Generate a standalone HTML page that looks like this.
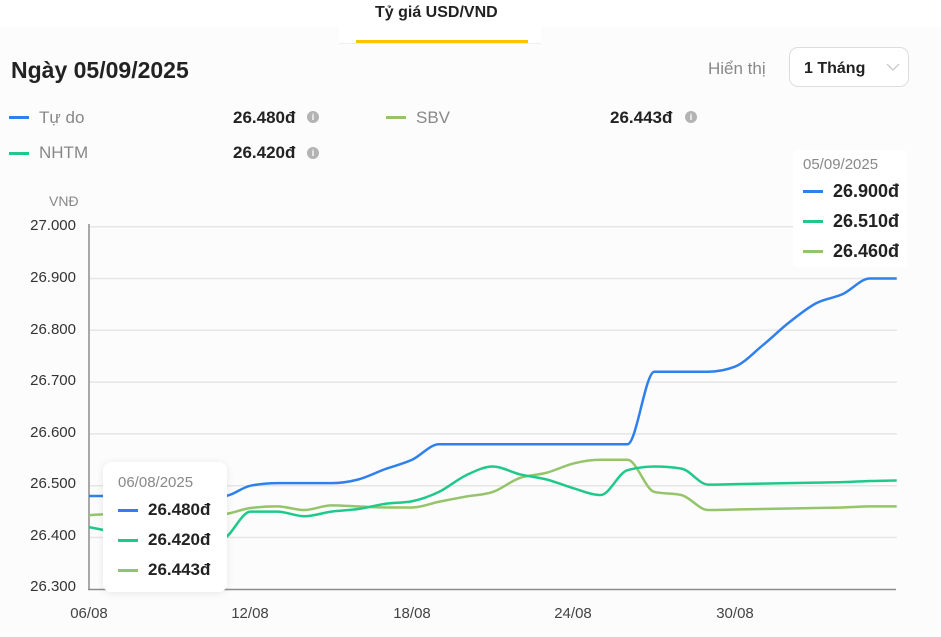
<!DOCTYPE html>
<html><head><meta charset="utf-8"><style>
*{margin:0;padding:0;box-sizing:border-box}
body{width:941px;height:637px;overflow:hidden;background:#fcfcfc;font-family:"Liberation Sans",Arial,sans-serif;position:relative;color:#222}
.a{position:absolute;white-space:nowrap}
.top{position:absolute;left:0;top:0;width:941px;height:27px;background:#fff}
.tab{position:absolute;left:339px;top:27px;width:202px;height:17px;background:#fff;border-bottom:1px solid #eee}
.yl{position:absolute;left:0;width:76px;text-align:right;font-size:15px;line-height:20px;color:#333}
.xl{position:absolute;width:60px;text-align:center;font-size:15px;line-height:20px;color:#444}
.dash{position:absolute;width:20px;height:2.5px}
.info{position:absolute;width:12px;height:12px;border-radius:50%;background:#b3b3b3;color:#fff;font-size:9px;font-weight:bold;line-height:12px;text-align:center}
.tip{position:absolute;background:#fff;border-radius:8px}
</style></head><body>
<div class="top"></div>
<div class="tab"></div>
<div class="a" style="left:375px;top:3px;font-size:16px;line-height:20px;font-weight:bold;color:#222">Tỷ giá USD/VND</div>
<div class="a" style="left:356px;top:40px;width:172px;height:3px;background:#f7c600"></div>

<div class="a" style="left:11px;top:56px;font-size:23px;line-height:28px;font-weight:bold;color:#222">Ngày 05/09/2025</div>
<div class="a" style="left:708px;top:59px;font-size:17px;line-height:20px;color:#888">Hiển thị</div>
<div class="a" style="left:789px;top:47px;width:120px;height:40px;border:1px solid #ddd;border-radius:9px;background:#fff"></div>
<div class="a" style="left:804px;top:58px;font-size:16px;line-height:22px;font-weight:bold;color:#222">1 Tháng</div>
<svg class="a" style="left:884px;top:60px" width="18" height="14"><polyline points="3,4 9,10 15,4" fill="none" stroke="#c4c4c4" stroke-width="1.2"/></svg>

<!-- legend -->
<div class="dash" style="left:9px;top:116px;background:#2f80ed"></div>
<div class="a" style="left:39px;top:108px;font-size:17px;line-height:20px;color:#888">Tự do</div>
<div class="a" style="left:233px;top:108px;font-size:17px;line-height:20px;font-weight:bold;color:#222">26.480đ</div>
<div class="info" style="left:307px;top:111px">i</div>
<div class="dash" style="left:386px;top:116px;background:#93c36b"></div>
<div class="a" style="left:416px;top:108px;font-size:17px;line-height:20px;color:#888">SBV</div>
<div class="a" style="left:610px;top:108px;font-size:17px;line-height:20px;font-weight:bold;color:#222">26.443đ</div>
<div class="info" style="left:685px;top:111px">i</div>
<div class="dash" style="left:9px;top:152px;background:#20c98b"></div>
<div class="a" style="left:39px;top:143px;font-size:17px;line-height:20px;color:#888">NHTM</div>
<div class="a" style="left:233px;top:143px;font-size:17px;line-height:20px;font-weight:bold;color:#222">26.420đ</div>
<div class="info" style="left:307px;top:147px">i</div>

<!-- axis labels -->
<div class="a" style="left:49px;top:191px;font-size:14px;line-height:20px;color:#888">VNĐ</div>
<div class="yl" style="top:215.5px">27.000</div>
<div class="yl" style="top:267.5px">26.900</div>
<div class="yl" style="top:319.5px">26.800</div>
<div class="yl" style="top:370.5px">26.700</div>
<div class="yl" style="top:422.5px">26.600</div>
<div class="yl" style="top:473.5px">26.500</div>
<div class="yl" style="top:525.5px">26.400</div>
<div class="yl" style="top:576.5px">26.300</div>
<div class="xl" style="left:59px;top:604px">06/08</div>
<div class="xl" style="left:220px;top:604px">12/08</div>
<div class="xl" style="left:382px;top:604px">18/08</div>
<div class="xl" style="left:543px;top:604px">24/08</div>
<div class="xl" style="left:705px;top:604px">30/08</div>

<svg class="a" style="left:0;top:0" width="941" height="637" id="ch">
<g stroke="#e6e6e6" stroke-width="1.5">
<line x1="90" x2="897" y1="226.7" y2="226.7"/>
<line x1="90" x2="897" y1="278.5" y2="278.5"/>
<line x1="90" x2="897" y1="330.3" y2="330.3"/>
<line x1="90" x2="897" y1="382.1" y2="382.1"/>
<line x1="90" x2="897" y1="433.9" y2="433.9"/>
<line x1="90" x2="897" y1="485.7" y2="485.7"/>
<line x1="90" x2="897" y1="537.5" y2="537.5"/>
</g>
<line x1="89" x2="89" y1="224" y2="590" stroke="#a8a8a8" stroke-width="2"/>
<line x1="88" x2="896" y1="589.5" y2="589.5" stroke="#8c8c8c" stroke-width="1.5"/>
<path id="pO" fill="none" stroke="#95c46a" stroke-width="2.5" stroke-linejoin="round"/>
<path id="pG" fill="none" stroke="#20c98b" stroke-width="2.5" stroke-linejoin="round"/>
<path id="pB" fill="none" stroke="#2f80ed" stroke-width="2.5" stroke-linejoin="round"/>
</svg>

<!-- tooltip bottom-left -->
<div class="tip" style="left:103px;top:462px;width:124px;height:130px;box-shadow:0 1px 8px rgba(0,0,0,0.09)"></div>
<div class="a" style="left:118px;top:473px;font-size:15px;line-height:20px;color:#888">06/08/2025</div>
<div class="dash" style="left:118px;top:509px;background:#2f80ed"></div>
<div class="a" style="left:148px;top:500px;font-size:17px;line-height:20px;font-weight:bold;color:#222">26.480đ</div>
<div class="dash" style="left:118px;top:539px;background:#20c98b"></div>
<div class="a" style="left:148px;top:530px;font-size:17px;line-height:20px;font-weight:bold;color:#222">26.420đ</div>
<div class="dash" style="left:118px;top:569px;background:#93c36b"></div>
<div class="a" style="left:148px;top:560px;font-size:17px;line-height:20px;font-weight:bold;color:#222">26.443đ</div>

<!-- tooltip top-right -->
<div class="tip" style="left:793px;top:150px;width:114px;height:117px;border-radius:4px"></div>
<div class="a" style="left:803px;top:155px;font-size:15px;line-height:20px;color:#888">05/09/2025</div>
<div class="dash" style="left:803px;top:190px;background:#2f80ed"></div>
<div class="a" style="left:833px;top:180px;font-size:18px;line-height:22px;font-weight:bold;color:#222">26.900đ</div>
<div class="dash" style="left:803px;top:220px;background:#20c98b"></div>
<div class="a" style="left:833px;top:210px;font-size:18px;line-height:22px;font-weight:bold;color:#222">26.510đ</div>
<div class="dash" style="left:803px;top:250px;background:#93c36b"></div>
<div class="a" style="left:833px;top:240px;font-size:18px;line-height:22px;font-weight:bold;color:#222">26.460đ</div>

<script>
(function(){
var B=[26480,26480,26480,26480,26480,26480,26500,26505,26505,26505,26512,26532,26550,26580,26580,26580,26580,26580,26580,26580,26580,26720,26720,26720,26730,26770,26815,26852,26870,26900,26900];
var G=[26420,26410,26400,26395,26388,26398,26450,26450,26441,26450,26455,26465,26470,26488,26520,26537,26522,26512,26495,26482,26530,26537,26533,26502,26503,26504,26505,26506,26507,26509,26510];
var O=[26443,26446,26448,26446,26444,26445,26457,26460,26453,26462,26460,26458,26458,26469,26479,26488,26515,26525,26543,26550,26550,26488,26482,26453,26454,26455,26456,26457,26458,26460,26460];
function X(i){return 89+i*26.923;}
function Y(v){return 589.3-(v-26300)*0.518;}
function sgn(a){return a<0?-1:1;}
function path(d){
 var n=d.length,xs=[],ys=[],t=[],i;
 for(i=0;i<n;i++){xs.push(X(i));ys.push(Y(d[i]));}
 for(i=1;i<n-1;i++){
  var h0=xs[i]-xs[i-1],h1=xs[i+1]-xs[i],s0=(ys[i]-ys[i-1])/h0,s1=(ys[i+1]-ys[i])/h1,p=(s0*h1+s1*h0)/(h0+h1);
  t[i]=(sgn(s0)+sgn(s1))*Math.min(Math.abs(s0),Math.abs(s1),0.5*Math.abs(p))||0;
 }
 var h=xs[1]-xs[0];t[0]=(3*(ys[1]-ys[0])/h-t[1])/2;
 h=xs[n-1]-xs[n-2];t[n-1]=(3*(ys[n-1]-ys[n-2])/h-t[n-2])/2;
 var s="M"+xs[0].toFixed(2)+","+ys[0].toFixed(2);
 for(i=0;i<n-1;i++){
  var dx=(xs[i+1]-xs[i])/3;
  s+="C"+(xs[i]+dx).toFixed(2)+","+(ys[i]+dx*t[i]).toFixed(2)+","+(xs[i+1]-dx).toFixed(2)+","+(ys[i+1]-dx*t[i+1]).toFixed(2)+","+xs[i+1].toFixed(2)+","+ys[i+1].toFixed(2);
 }
 return s;
}
document.getElementById("pB").setAttribute("d",path(B));
document.getElementById("pG").setAttribute("d",path(G));
document.getElementById("pO").setAttribute("d",path(O));
})();
</script>
</body></html>
